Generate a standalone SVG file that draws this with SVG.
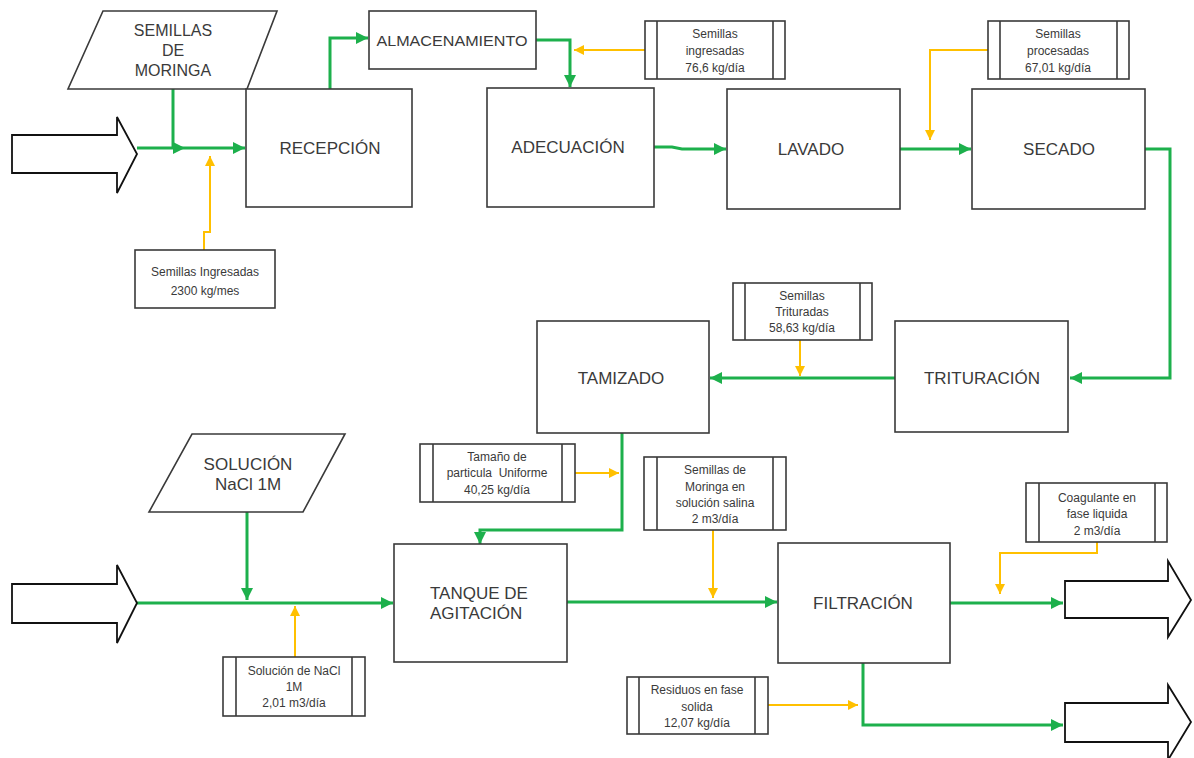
<svg xmlns="http://www.w3.org/2000/svg" width="1194" height="758" viewBox="0 0 1194 758">
<style>
.box{fill:#fff;stroke:#3a3a3a;stroke-width:1.6}
.bar{stroke:#3a3a3a;stroke-width:1.6}
.big{fill:#fff;stroke:#111;stroke-width:1.8}
.t{font-family:"Liberation Sans",Arial,sans-serif;font-size:17px;fill:#3a3a3a;text-anchor:middle}
.t16{font-size:16px}
.ts{text-anchor:start}
.s{font-family:"Liberation Sans",Arial,sans-serif;font-size:12px;fill:#3a3a3a;text-anchor:middle}
.g{fill:none;stroke:#1DB04C;stroke-width:3}
.y{fill:none;stroke:#FFC000;stroke-width:2}
</style>
<defs>
<marker id="ag" viewBox="0 0 10 10" refX="10" refY="5" markerWidth="12" markerHeight="12" markerUnits="userSpaceOnUse" orient="auto"><path d="M0,0 L10,5 L0,10 z" fill="#1DB04C"/></marker>
<marker id="ay" viewBox="0 0 10 10" refX="10" refY="5" markerWidth="10" markerHeight="10" markerUnits="userSpaceOnUse" orient="auto"><path d="M0,0 L10,5 L0,10 z" fill="#FFC000"/></marker>
</defs>
<rect width="1194" height="758" fill="#fff"/>

<g id="connectors">
<path class="g" d="M173,89 V148"/>
<path class="g" d="M137,148 H185" marker-end="url(#ag)"/>
<path class="g" d="M185,148 H245" marker-end="url(#ag)"/>
<path class="y" d="M204,250 V232 H210 V156" marker-end="url(#ay)"/>
<path class="g" d="M330,89 V38 H368" marker-end="url(#ag)"/>
<path class="g" d="M536,40 H570 V87" marker-end="url(#ag)"/>
<path class="y" d="M645,50 H574" marker-end="url(#ay)"/>
<path class="g" d="M654,147 H672 L682,149 H726" marker-end="url(#ag)"/>
<path class="y" d="M988,50 H930 V140" marker-end="url(#ay)"/>
<path class="g" d="M900,149 H971" marker-end="url(#ag)"/>
<path class="g" d="M1145,149 H1170 V378 H1070" marker-end="url(#ag)"/>
<path class="g" d="M895,378 H710" marker-end="url(#ag)"/>
<path class="y" d="M800,340 V376" marker-end="url(#ay)"/>
<path class="g" d="M622,433 V530 H480 V544" marker-end="url(#ag)"/>
<path class="y" d="M575,473 H619" marker-end="url(#ay)"/>
<path class="g" d="M247,512 V600" marker-end="url(#ag)"/>
<path class="g" d="M137,603 H393" marker-end="url(#ag)"/>
<path class="y" d="M295,657 V606" marker-end="url(#ay)"/>
<path class="g" d="M567,602 H777" marker-end="url(#ag)"/>
<path class="y" d="M713,530 V598" marker-end="url(#ay)"/>
<path class="g" d="M950,603 H1063" marker-end="url(#ag)"/>
<path class="y" d="M1097,542 V553 H1000 V594" marker-end="url(#ay)"/>
<path class="g" d="M863,663 V725 H1063" marker-end="url(#ag)"/>
<path class="y" d="M768,705 H858" marker-end="url(#ay)"/>
</g>

<g id="in-arrow-1"><polygon class="big" points="12,135 117,135 117,117 137,154 117,193 117,173 12,173"/></g>
<g id="in-arrow-2"><polygon class="big" points="12,584 117,584 117,565 137,603 117,643 117,623 12,623"/></g>
<g id="out-arrow-1"><polygon class="big" points="1065,581 1168,581 1168,561 1191,600 1168,637 1168,618 1065,618"/></g>
<g id="out-arrow-2"><polygon class="big" points="1065,703 1168,703 1168,685 1191,722 1168,760 1168,742 1065,742"/></g>

<g id="semillas-moringa">
<polygon class="box" points="103,11 277,11 247,89 68,89"/>
<text class="t t16" x="173" y="36">SEMILLAS</text>
<text class="t t16" x="173" y="56">DE</text>
<text class="t t16" x="173" y="76">MORINGA</text>
</g>

<g id="semillas-ingresadas-mes">
<rect class="box" x="135" y="250" width="140" height="58"/>
<text class="s" x="205" y="276">Semillas Ingresadas</text>
<text class="s" x="205" y="295">2300 kg/mes</text>
</g>

<g id="recepcion">
<rect class="box" x="246" y="89" width="166" height="118"/>
<text class="t" x="330" y="154">RECEPCIÓN</text>
</g>

<g id="almacenamiento">
<rect class="box" x="369" y="11" width="167" height="58"/>
<text class="t" x="452" y="46" style="font-size:15.5px" textLength="151" lengthAdjust="spacingAndGlyphs">ALMACENAMIENTO</text>
</g>

<g id="semillas-ingresadas-dia">
<rect class="box" x="645" y="21" width="140" height="58"/>
<line class="bar" x1="657" y1="21" x2="657" y2="79"/><line class="bar" x1="773" y1="21" x2="773" y2="79"/>
<text class="s" x="715" y="38">Semillas</text>
<text class="s" x="715" y="55">ingresadas</text>
<text class="s" x="715" y="72">76,6 kg/día</text>
</g>

<g id="adecuacion">
<rect class="box" x="487" y="88" width="167" height="119"/>
<text class="t" x="568" y="153">ADECUACIÓN</text>
</g>

<g id="lavado">
<rect class="box" x="727" y="89" width="173" height="120"/>
<text class="t" x="811" y="155">LAVADO</text>
</g>

<g id="semillas-procesadas">
<rect class="box" x="988" y="21" width="141" height="58"/>
<line class="bar" x1="1000" y1="21" x2="1000" y2="79"/><line class="bar" x1="1117" y1="21" x2="1117" y2="79"/>
<text class="s" x="1058" y="38">Semillas</text>
<text class="s" x="1058" y="55">procesadas</text>
<text class="s" x="1058" y="72">67,01 kg/día</text>
</g>

<g id="secado">
<rect class="box" x="972" y="89" width="173" height="120"/>
<text class="t" x="1059" y="155">SECADO</text>
</g>

<g id="semillas-trituradas">
<rect class="box" x="733" y="283" width="139" height="57"/>
<line class="bar" x1="745" y1="283" x2="745" y2="340"/><line class="bar" x1="860" y1="283" x2="860" y2="340"/>
<text class="s" x="802" y="300">Semillas</text>
<text class="s" x="802" y="316">Trituradas</text>
<text class="s" x="802" y="332">58,63 kg/día</text>
</g>

<g id="tamizado">
<rect class="box" x="537" y="321" width="172" height="112"/>
<text class="t" x="621" y="384">TAMIZADO</text>
</g>

<g id="trituracion">
<rect class="box" x="895" y="321" width="173" height="111"/>
<text class="t" x="982" y="384">TRITURACIÓN</text>
</g>

<g id="tamano-particula">
<rect class="box" x="420" y="444" width="155" height="58"/>
<line class="bar" x1="433" y1="444" x2="433" y2="502"/><line class="bar" x1="562" y1="444" x2="562" y2="502"/>
<text class="s" x="497" y="461">Tamaño de</text>
<text class="s" x="497" y="477" xml:space="preserve">particula  Uniforme</text>
<text class="s" x="497" y="494">40,25 kg/día</text>
</g>

<g id="semillas-solucion-salina">
<rect class="box" x="644" y="457" width="142" height="73"/>
<line class="bar" x1="657" y1="457" x2="657" y2="530"/><line class="bar" x1="773" y1="457" x2="773" y2="530"/>
<text class="s" x="715" y="474">Semillas de</text>
<text class="s" x="715" y="491">Moringa en</text>
<text class="s" x="715" y="507">solución salina</text>
<text class="s" x="715" y="523">2 m3/día</text>
</g>

<g id="solucion-nacl">
<polygon class="box" points="192,434 345,434 303,512 149,512"/>
<text class="t" x="248" y="470">SOLUCIÓN</text>
<text class="t" x="248" y="490">NaCl 1M</text>
</g>

<g id="solucion-nacl-dia">
<rect class="box" x="223" y="657" width="142" height="59"/>
<line class="bar" x1="236" y1="657" x2="236" y2="716"/><line class="bar" x1="352" y1="657" x2="352" y2="716"/>
<text class="s" x="294" y="675">Solución de NaCl</text>
<text class="s" x="294" y="691">1M</text>
<text class="s" x="294" y="707">2,01 m3/día</text>
</g>

<g id="tanque-agitacion">
<rect class="box" x="394" y="544" width="173" height="118"/>
<text class="t ts" x="430" y="599">TANQUE DE</text>
<text class="t ts" x="430" y="619">AGITACIÓN</text>
</g>

<g id="filtracion">
<rect class="box" x="778" y="543" width="172" height="120"/>
<text class="t" x="863" y="609">FILTRACIÓN</text>
</g>

<g id="coagulante">
<rect class="box" x="1026" y="483" width="141" height="59"/>
<line class="bar" x1="1039" y1="483" x2="1039" y2="542"/><line class="bar" x1="1155" y1="483" x2="1155" y2="542"/>
<text class="s" x="1097" y="502">Coagulante en</text>
<text class="s" x="1097" y="518">fase liquida</text>
<text class="s" x="1097" y="535">2 m3/día</text>
</g>

<g id="residuos">
<rect class="box" x="627" y="677" width="141" height="57"/>
<line class="bar" x1="639" y1="677" x2="639" y2="734"/><line class="bar" x1="755" y1="677" x2="755" y2="734"/>
<text class="s" x="697" y="694">Residuos en fase</text>
<text class="s" x="697" y="711">solida</text>
<text class="s" x="697" y="727">12,07 kg/día</text>
</g>
</svg>
